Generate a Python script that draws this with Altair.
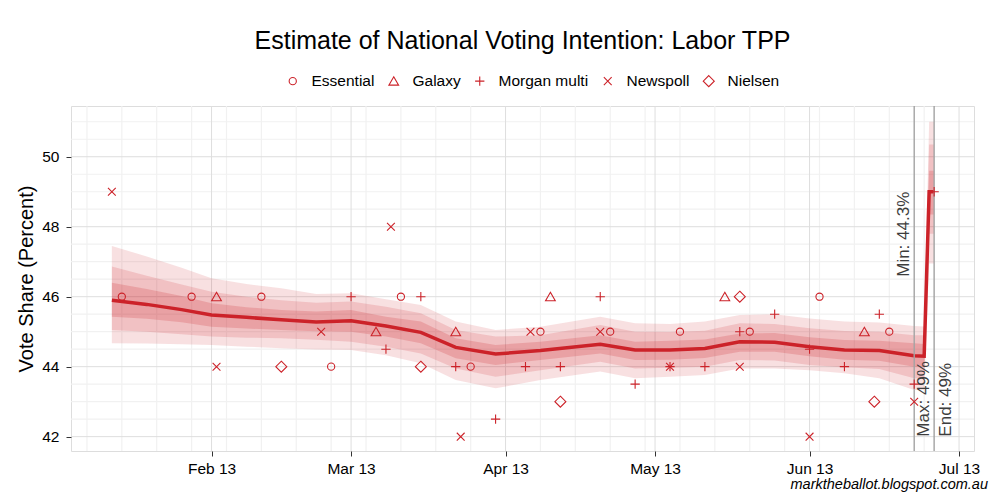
import altair as alt
import pandas as pd

FONT = "Liberation Sans, Arial, Helvetica, sans-serif"
RED = "#cc2229"

# ---------------- model estimate ----------------
est_dates = ["2013-01-12", "2013-01-19", "2013-01-26", "2013-02-01", "2013-02-08",
             "2013-02-15", "2013-02-22", "2013-03-01", "2013-03-08", "2013-03-15",
             "2013-03-22", "2013-03-30", "2013-04-08", "2013-04-20", "2013-04-27",
             "2013-05-04", "2013-05-11", "2013-05-18", "2013-05-25", "2013-06-01",
             "2013-06-08", "2013-06-15", "2013-06-22", "2013-06-24", "2013-06-25",
             "2013-06-26"]
est_median = [45.90, 45.78, 45.63, 45.48, 45.41, 45.34, 45.28, 45.31, 45.16, 44.98,
              44.55, 44.36, 44.46, 44.64, 44.48, 44.48, 44.52, 44.71, 44.70, 44.57,
              44.48, 44.46, 44.31, 44.30, 49.00, 49.00]
inner_lo = [45.43, 45.37, 45.27, 45.14, 45.09, 45.05, 45.01, 45.00, 44.86, 44.67,
            44.24, 44.05, 44.19, 44.38, 44.19, 44.20, 44.25, 44.43, 44.43, 44.30,
            44.20, 44.17, 44.00, 44.00, 48.35, 48.35]
inner_hi = [46.40, 46.22, 46.02, 45.81, 45.70, 45.62, 45.58, 45.62, 45.43, 45.29,
            44.81, 44.62, 44.71, 44.90, 44.71, 44.74, 44.78, 44.95, 44.96, 44.84,
            44.76, 44.74, 44.67, 44.65, 49.60, 49.60]
mid_lo = [45.05, 45.00, 44.93, 44.86, 44.83, 44.81, 44.77, 44.71, 44.57, 44.38,
          43.95, 43.71, 43.90, 44.14, 43.95, 43.97, 44.00, 44.19, 44.18, 44.05,
          43.98, 43.93, 43.67, 43.67, 47.80, 47.80]
mid_hi = [46.86, 46.60, 46.35, 46.14, 46.00, 45.90, 45.83, 45.86, 45.71, 45.53,
          45.05, 44.86, 44.90, 45.19, 45.00, 44.99, 45.03, 45.24, 45.22, 45.10,
          45.02, 45.00, 44.90, 44.90, 50.35, 50.35]
outer_lo = [44.67, 44.66, 44.64, 44.62, 44.57, 44.53, 44.49, 44.48, 44.33, 44.10,
            43.62, 43.38, 43.62, 43.86, 43.67, 43.71, 43.76, 43.95, 43.95, 43.90,
            43.81, 43.67, 43.33, 43.33, 46.95, 46.95]
outer_hi = [47.45, 47.15, 46.83, 46.53, 46.36, 46.24, 46.08, 46.10, 45.93, 45.76,
            45.29, 45.05, 45.14, 45.43, 45.24, 45.22, 45.29, 45.48, 45.50, 45.38,
            45.29, 45.26, 45.16, 45.15, 51.00, 51.00]

# ---------------- polls ----------------
essential_dates = ["2013-01-14", "2013-01-28", "2013-02-11", "2013-02-25", "2013-03-11",
                   "2013-03-25", "2013-04-08", "2013-04-22", "2013-05-06", "2013-05-20",
                   "2013-06-03", "2013-06-17"]
essential_values = [46, 46, 46, 44, 46, 44, 45, 45, 45, 45, 46, 45]
galaxy_dates = ["2013-02-02", "2013-03-06", "2013-03-22", "2013-04-10", "2013-05-15",
                "2013-06-12"]
galaxy_values = [46, 45, 45, 46, 46, 45]
morgan_dates = ["2013-03-01", "2013-03-08", "2013-03-15", "2013-03-22", "2013-03-30",
                "2013-04-05", "2013-04-12", "2013-04-20", "2013-04-27", "2013-05-04",
                "2013-05-11", "2013-05-18", "2013-05-25", "2013-06-01", "2013-06-08",
                "2013-06-15", "2013-06-22", "2013-06-26"]
morgan_values = [46, 44.5, 46, 44, 42.5, 44, 44, 46, 43.5, 44, 44, 45, 45.5, 44.5, 44,
                 45.5, 43.5, 49]
newspoll_dates = ["2013-01-12", "2013-02-02", "2013-02-23", "2013-03-09", "2013-03-23",
                  "2013-04-06", "2013-04-20", "2013-05-04", "2013-05-18", "2013-06-01",
                  "2013-06-22"]
newspoll_values = [49, 44, 45, 48, 42, 45, 45, 44, 44, 42, 43]
nielsen_dates = ["2013-02-15", "2013-03-15", "2013-04-12", "2013-05-18", "2013-06-14"]
nielsen_values = [44, 44, 43, 46, 43]

pollsters = ["Essential", "Galaxy", "Morgan multi", "Newspoll", "Nielsen"]
pollster_shapes = [
    "M0,-0.72A0.72,0.72,0,1,1,0,0.72A0.72,0.72,0,1,1,0,-0.72Z",
    "M0,-0.88L0.97,0.80L-0.97,0.80Z",
    "M-0.93,0L0.93,0M0,-0.93L0,0.93",
    "M-0.78,-0.78L0.78,0.78M-0.78,0.78L0.78,-0.78",
    "M0,-1.1L1.1,0L0,1.1L-1.1,0Z",
]

# ---------------- annotations ----------------
min_date = "2013-06-22"
end_date = "2013-06-26"
ann_labels = ["Min: 44.3%", "Max: 49%", "End: 49%"]
title_text = "Estimate of National Voting Intention: Labor TPP"
caption_text = "marktheballot.blogspot.com.au"

# ---------------- axis ticks & gridlines ----------------
month_ticks = ["2013-02-01", "2013-03-01", "2013-04-01", "2013-05-01", "2013-06-01", "2013-07-01"]
y_major = [42, 44, 46, 48, 50]
y_minor = [42.5, 43, 43.5, 44.5, 45, 45.5, 46.5, 47, 47.5, 48.5, 49, 49.5, 50.5, 51]
week_lines = [d.strftime("%Y-%m-%d") for d in pd.date_range("2013-01-07", "2013-07-01", freq="7D")
              if d.strftime("%Y-%m-%d") not in month_ticks]


def ms(s):
    return int(pd.Timestamp(s, tz="UTC").value // 10**6)


W, H = 903, 345
xsc = alt.Scale(type="utc", domain=[ms("2013-01-03T19:12:00"), ms("2013-07-04T00:00:00")])
ysc = alt.Scale(domain=[41.59, 51.45], nice=False, zero=False)
xaxis = alt.Axis(values=[ms(d) for d in month_ticks], format="%b %y", grid=False, domain=False,
                 tickSize=5, tickColor="#333333", tickWidth=1, labelFontSize=15.5,
                 labelColor="#000000", labelPadding=5, labelFont=FONT, title=None)
yaxis = alt.Axis(values=y_major, grid=False, domain=False, tickSize=5, tickColor="#333333",
                 tickWidth=1, labelFontSize=15.5, labelColor="#000000", labelPadding=7,
                 labelFont=FONT, title="Vote Share (Percent)", titleFontSize=20,
                 titleFontWeight="normal", titleColor="#000000", titleFont=FONT,
                 titleX=-45, titleY=H / 2, titleAngle=270, titleBaseline="middle",
                 titleAlign="center")


def X(field):
    return alt.X(f"{field}:T", scale=xsc, axis=xaxis)


def Y(field):
    return alt.Y(f"{field}:Q", scale=ysc, axis=yaxis)


est = pd.DataFrame({"date": est_dates, "value": est_median,
                    "ilo": inner_lo, "ihi": inner_hi, "mlo": mid_lo, "mhi": mid_hi,
                    "olo": outer_lo, "ohi": outer_hi})

polls = pd.concat([
    pd.DataFrame({"date": essential_dates, "value": essential_values, "pollster": "Essential"}),
    pd.DataFrame({"date": galaxy_dates, "value": galaxy_values, "pollster": "Galaxy"}),
    pd.DataFrame({"date": morgan_dates, "value": morgan_values, "pollster": "Morgan multi"}),
    pd.DataFrame({"date": newspoll_dates, "value": newspoll_values, "pollster": "Newspoll"}),
    pd.DataFrame({"date": nielsen_dates, "value": nielsen_values, "pollster": "Nielsen"}),
], ignore_index=True)

minor_v = alt.Chart(pd.DataFrame({"date": week_lines})).mark_rule(
    color="#f1f1f1", strokeWidth=1.2).encode(x=X("date"))
minor_h = alt.Chart(pd.DataFrame({"value": y_minor})).mark_rule(
    color="#f1f1f1", strokeWidth=1.2).encode(y=Y("value"))
major_v = alt.Chart(pd.DataFrame({"date": month_ticks})).mark_rule(
    color="#dedede", strokeWidth=1).encode(x=X("date"))
major_h = alt.Chart(pd.DataFrame({"value": y_major})).mark_rule(
    color="#dedede", strokeWidth=1).encode(y=Y("value"))

base = alt.Chart(est)
outer = base.mark_area(color=RED, opacity=0.14).encode(x=X("date"), y=Y("olo"), y2="ohi")
middle = base.mark_area(color=RED, opacity=0.16).encode(x=X("date"), y=Y("mlo"), y2="mhi")
inner = base.mark_area(color=RED, opacity=0.2).encode(x=X("date"), y=Y("ilo"), y2="ihi")
line = base.mark_line(color=RED, strokeWidth=3.5).encode(x=X("date"), y=Y("value"))

vrules = alt.Chart(pd.DataFrame({"date": [min_date, end_date]})).mark_rule(
    color="#a3a3a3", strokeWidth=1.4).encode(x=X("date"))

legend = alt.Legend(title=None, orient="none", legendX=214, legendY=-33, direction="horizontal",
                    labelFontSize=15.5, labelFont=FONT, labelColor="#000000", symbolSize=100,
                    symbolStrokeWidth=1.1, symbolStrokeColor=RED, symbolFillColor="transparent",
                    labelOffset=11, columnPadding=11, padding=0)
points = alt.Chart(polls).mark_point(filled=False, size=100, strokeWidth=1.1, color=RED,
                                     opacity=1).encode(
    x=X("date"), y=Y("value"),
    shape=alt.Shape("pollster:N", scale=alt.Scale(domain=pollsters, range=pollster_shapes),
                    legend=legend))

ann_style = dict(angle=270, fontSize=17, font=FONT, color="#3d3d3d", baseline="middle")
min_text = alt.Chart(pd.DataFrame({"date": [min_date], "value": [49.0], "t": [ann_labels[0]]})).mark_text(
    align="right", dy=-10, **ann_style).encode(x=X("date"), y=Y("value"), text="t:N")
max_text = alt.Chart(pd.DataFrame({"date": [min_date], "value": [42.0], "t": [ann_labels[1]]})).mark_text(
    align="left", dy=10, **ann_style).encode(x=X("date"), y=Y("value"), text="t:N")
end_text = alt.Chart(pd.DataFrame({"date": [end_date], "value": [42.0], "t": [ann_labels[2]]})).mark_text(
    align="left", dy=12, **ann_style).encode(x=X("date"), y=Y("value"), text="t:N")

title = alt.Chart(pd.DataFrame({"t": [title_text]})).mark_text(
    fontSize=25, font=FONT, color="#000000", align="center", baseline="alphabetic").encode(
    text="t:N", x=alt.value(W / 2), y=alt.value(-57))
caption = alt.Chart(pd.DataFrame({"t": [caption_text]})).mark_text(
    fontSize=14.5, font=FONT, fontStyle="italic", color="#000000", align="right",
    baseline="alphabetic").encode(text="t:N", x=alt.value(917), y=alt.value(383))

chart = alt.layer(
    minor_v, minor_h, major_v, major_h, outer, middle, inner, line, vrules, points,
    min_text, max_text, end_text, title, caption
).properties(
    width=W, height=H, autosize=alt.AutoSizeParams(type="none"),
    padding={"left": 63, "top": 98, "right": 18, "bottom": 41},
).configure_view(stroke="#8a8a8a", strokeWidth=1).configure(background="white", font=FONT)

chart.save("out.html", embed_options={"renderer": "svg", "actions": False})
